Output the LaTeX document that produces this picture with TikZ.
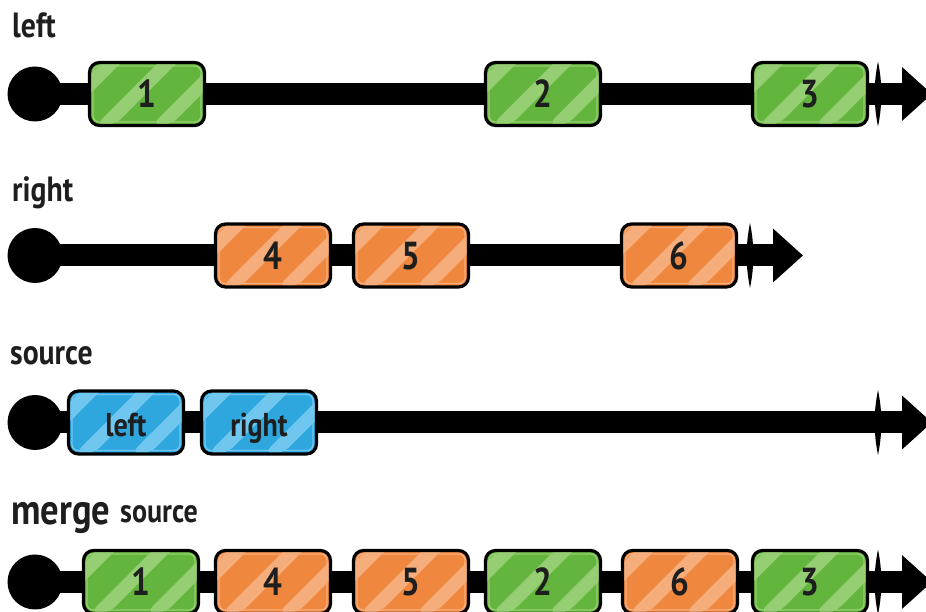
\documentclass[tikz,border=0pt]{standalone}
\usepackage{fontspec}
\newfontfamily\handfont{PT Sans}[FakeStretch=0.85]
\usetikzlibrary{calc,arrows.meta}
\definecolor{ink}{HTML}{1E1E1E}
\definecolor{gmain}{HTML}{64B53D}
\definecolor{glite}{HTML}{96CF73}
\definecolor{omain}{HTML}{F0873F}
\definecolor{olite}{HTML}{F5AD7B}
\definecolor{bmain}{HTML}{2EA7DF}
\definecolor{blite}{HTML}{6FC6EE}
\newcommand\mystripes[1]{%
  \foreach \o in {-50,6,62,118} {%
    \fill[#1] ($(path picture bounding box.south west)+(\o,0)$) -- ++(19,0) -- ++(80,80) -- ++(-19,0) -- cycle;
  }%
  \draw[#1, line width=1.4pt, rounded corners=6pt]
    ($(path picture bounding box.south west)+(3.5,3.5)$) rectangle
    ($(path picture bounding box.north east)+(-3.5,-3.5)$);
}
\begin{document}
\begin{tikzpicture}[x=1pt,y=1pt,
  axis/.style={line width=22pt, draw=black, -{Triangle[length=30pt,width=52pt]}},
  startdot/.style={circle, fill=black, minimum size=55pt, inner sep=0pt},
  marble/.style={draw=black, line width=3.2pt, rounded corners=10pt,
    minimum width=115pt, minimum height=63pt, inner sep=0pt,
    text height=28pt, text depth=0pt, text=ink,
    font=\handfont\bfseries\fontsize{39}{39}\selectfont},
  gmarble/.style={marble, fill=gmain, path picture={\mystripes{glite}}},
  omarble/.style={marble, fill=omain, path picture={\mystripes{olite}}},
  bmarble/.style={marble, fill=bmain, path picture={\mystripes{blite}},
    font=\handfont\bfseries\fontsize{33}{33}\selectfont},
  lab/.style={anchor=base west, inner sep=0pt, text=ink,
    font=\handfont\bfseries\fontsize{35}{35}\selectfont},
  tickmark/.style={fill=black}
]
\useasboundingbox (0,0) rectangle (926,612);
\clip (0,0) rectangle (926,612);
\fill[white] (0,0) rectangle (926,612);

% labels
\node[lab] (lleft) at (12,574) {left};
\node[lab] (lright) at (12,410) {right};
\node[lab] (lsource) at (10,247) {source};
\node[lab, font=\handfont\bfseries\fontsize{43}{43}\selectfont] (lmerge) at (11,87) {merge};
\node[lab, font=\handfont\bfseries\fontsize{33}{33}\selectfont] (lmsrc) at (120,89) {source};

% start dots and ends
\node[startdot] (d1) at (35,518) {};
\node[startdot] (d2) at (35,356.5) {};
\node[startdot] (d3) at (35,189.5) {};
\node[startdot] (d4) at (35,30) {};
\coordinate (e1) at (932,518);
\coordinate (e2) at (803,356.5);
\coordinate (e3) at (932,189.5);
\coordinate (e4) at (932,30);
\coordinate (t1) at (878,518);
\coordinate (t2) at (750,356.5);
\coordinate (t3) at (878,189.5);
\coordinate (t4) at (878,30);

\draw[axis] (d1.center) -- (e1);
\draw[axis] (d2.center) -- (e2);
\draw[axis] (d3.center) -- (e3);
\draw[axis] (d4.center) -- (e4);

% completion ticks
\foreach \t in {t1,t2,t3,t4} {
  \fill[tickmark] ($(\t)+(0,32.5)$) .. controls ($(\t)+(4.5,10)$) and ($(\t)+(4.5,-10)$) .. ($(\t)+(0,-32.5)$)
     .. controls ($(\t)+(-4.5,-10)$) and ($(\t)+(-4.5,10)$) .. cycle;
}

% row 1: left
\node[gmarble] (a1) at (147,518) {1};
\node[gmarble] (a2) at (543,518) {2};
\node[gmarble] (a3) at (810,518) {3};

% row 2: right
\node[omarble] (b4) at (273,356.5) {4};
\node[omarble] (b5) at (411,356.5) {5};
\node[omarble] (b6) at (679,356.5) {6};

% row 3: source
\node[bmarble] (cl) at (126,189.5) {left};
\node[bmarble] (cr) at (259,189.5) {right};

% row 4: merge source
\node[gmarble] (m1) at (141,30) {1};
\node[omarble] (m4) at (273,30) {4};
\node[omarble] (m5) at (411,30) {5};
\node[gmarble] (m2) at (543,30) {2};
\node[omarble] (m6) at (680,30) {6};
\node[gmarble] (m3) at (810,30) {3};
\end{tikzpicture}
\end{document}
